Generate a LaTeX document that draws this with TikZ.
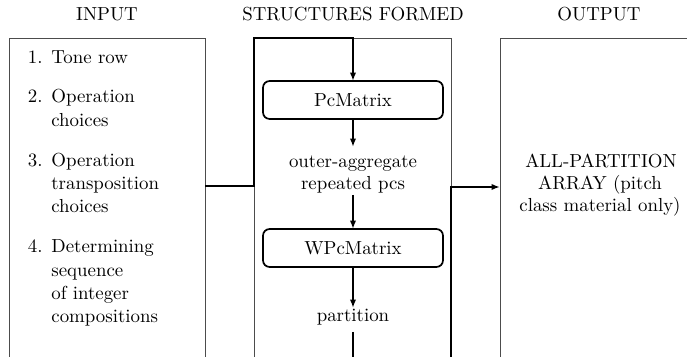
\documentclass[tikz,border=0pt]{standalone}
\usetikzlibrary{arrows.meta}
\begin{document}
\begin{tikzpicture}[x=0.53pt,y=-0.53pt,
  frame/.style={draw=black!70,line width=0.5pt,inner sep=0pt,outer sep=0pt,minimum height=202pt},
  flow/.style={line width=1.1pt},
  arr/.style={flow,-{Latex[length=4.5pt,width=3.4pt]}},
  struct/.style={draw,line width=0.9pt,rounded corners=3.5pt,minimum width=95.4pt,minimum height=20.1pt,inner sep=0pt,outer sep=0pt},
  head/.style={anchor=base,inner sep=0pt},
  ln/.style={anchor=base west,inner sep=0pt},
  num/.style={anchor=base east,inner sep=0pt},
  ctr/.style={anchor=base,inner sep=0pt}]
\clip (0,0) rectangle (687,357);
% column frames
\node[frame,anchor=north west,minimum width=103.9pt] (inbox) at (9,38) {};
\node[frame,anchor=north west,minimum width=104.4pt] (midbox) at (254,38) {};
\node[frame,anchor=north west,minimum width=104pt] (outbox) at (500,38) {};
% headings
\node[head] (h1) at (107,21) {INPUT};
\node[head] (h2) at (353,21) {STRUCTURES FORMED};
\node[head] (h3) at (599,21) {OUTPUT};
% input list
\node[num] (n1) at (43,64) {1.};
\node[ln] (l1) at (51,64) {Tone row};
\node[num] (n2) at (43,103) {2.};
\node[ln] (l2a) at (51,103) {Operation};
\node[ln] (l2b) at (51,127) {choices};
\node[num] (n3) at (43,167) {3.};
\node[ln] (l3a) at (51,167) {Operation};
\node[ln] (l3b) at (51,190) {transposition};
\node[ln] (l3c) at (51,213) {choices};
\node[num] (n4) at (43,253) {4.};
\node[ln] (l4a) at (51,253) {Determining};
\node[ln] (l4b) at (51,277) {sequence};
\node[ln] (l4c) at (51,300) {of integer};
\node[ln] (l4d) at (51,323) {compositions};
% structures
\node[struct] (pc) at (353,100) {PcMatrix};
\node[ctr] (oa1) at (353,168) {outer-aggregate};
\node[ctr] (oa2) at (353,190) {repeated pcs};
\node[struct] (wpc) at (353,248) {WPcMatrix};
\node[ctr] (part) at (353,322) {partition};
% output
\node[ctr] (o1) at (601,168) {ALL-PARTITION};
\node[ctr] (o2) at (600,190) {ARRAY (pitch};
\node[ctr] (o3) at (600,212) {class material only)};
% connector end points
\coordinate (j1) at (205,186);
\coordinate (a1) at (353,147);
\coordinate (a2) at (353,195);
\coordinate (a3) at (353,308);
\coordinate (a4) at (353,332);
\coordinate (bot) at (451,420);
\coordinate (j2) at (451,187);
% connectors
\draw[arr] (j1) -| (midbox.north west) -| (pc.north);
\draw[arr] (pc.south) -- (a1);
\draw[arr] (a2) -- (wpc.north);
\draw[arr] (wpc.south) -- (a3);
\draw[arr] (a4) |- (bot) -- (j2) -- (outbox.west |- j2);
\end{tikzpicture}
\end{document}
